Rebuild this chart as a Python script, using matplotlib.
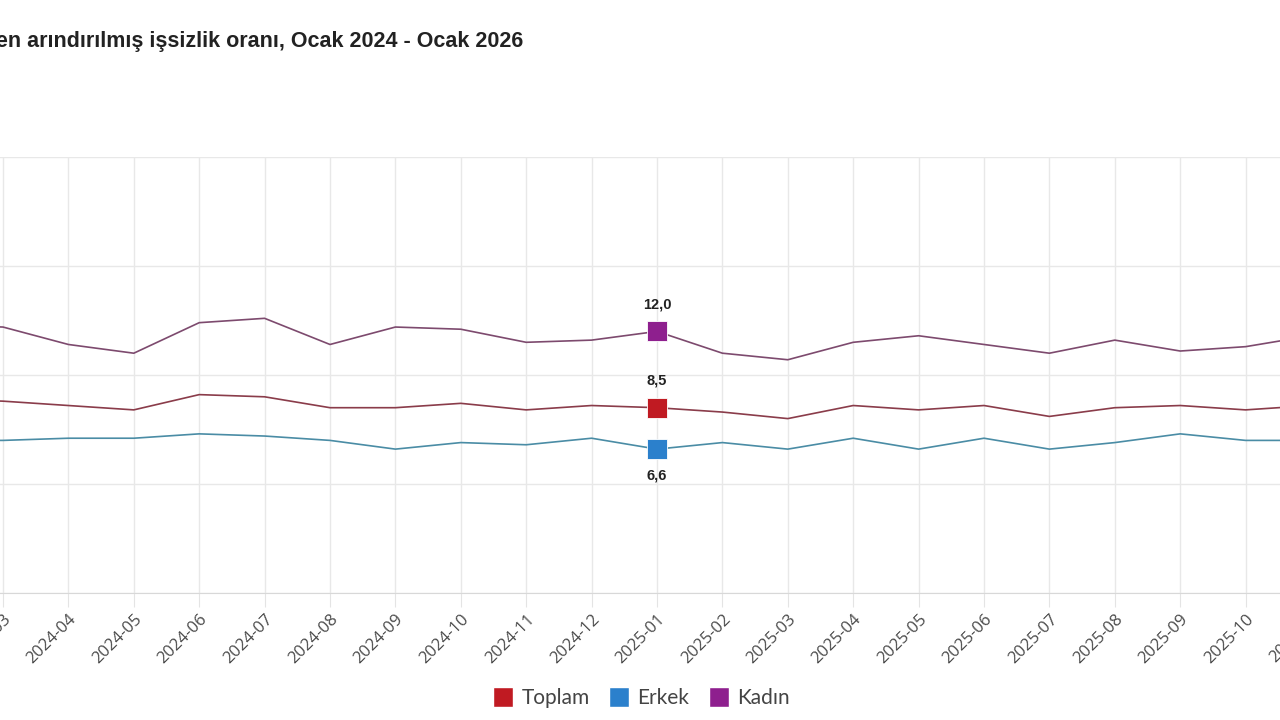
# mevsim etkilerinden arındırılmış işsizlik oranı - Toplam / Erkek / Kadın

import matplotlib
matplotlib.use('Agg')
import matplotlib.pyplot as plt
from matplotlib.lines import Line2D

# data (months Ocak 2024 - Ocak 2026, percent)
months = ['2024-01', '2024-02', '2024-03', '2024-04', '2024-05', '2024-06', '2024-07',
          '2024-08', '2024-09', '2024-10', '2024-11', '2024-12', '2025-01', '2025-02',
          '2025-03', '2025-04', '2025-05', '2025-06', '2025-07', '2025-08', '2025-09',
          '2025-10', '2025-11', '2025-12', '2026-01']
toplam = [9.1, 8.9, 8.8, 8.6, 8.4, 9.1, 9.0, 8.5, 8.5, 8.7, 8.4, 8.6, 8.5, 8.3,
          8.0, 8.6, 8.4, 8.6, 8.1, 8.5, 8.6, 8.4, 8.6, 8.6, 8.6]
erkek = [7.2, 7.0, 7.0, 7.1, 7.1, 7.3, 7.2, 7.0, 6.6, 6.9, 6.8, 7.1, 6.6, 6.9,
         6.6, 7.1, 6.6, 7.1, 6.6, 6.9, 7.3, 7.0, 7.0, 7.1, 7.0]
kadin = [12.4, 12.3, 12.2, 11.4, 11.0, 12.4, 12.6, 11.4, 12.2, 12.1, 11.5, 11.6, 12.0, 11.0,
         10.7, 11.5, 11.8, 11.4, 11.0, 11.6, 11.1, 11.3, 11.8, 11.7, 11.6]
highlight = '2025-01'

title = 'Mevsim etkilerinden arındırılmış işsizlik oranı, Ocak 2024 - Ocak 2026'

# colours: (line, marker)
series = [
    ('Toplam', toplam, '#8a3c4a', '#c01a22', 'above'),
    ('Erkek', erkek, '#4a8ca5', '#2b80cc', 'below'),
    ('Kadın', kadin, '#7d4a6e', '#8e1f8e', 'above'),
]

fig = plt.figure(figsize=(12.8, 7.2), dpi=100)
# the picture is a crop of a wider chart, so the axes run past the figure edges
ax = fig.add_axes([-127.8 / 1280, 127 / 720, 1569.6 / 1280, 436 / 720])

x = list(range(len(months)))
hi = months.index(highlight)

for name, vals, lc, mc, pos in series:
    ax.plot(x, vals, color=lc, lw=1.2, zorder=3)
    ax.plot([hi], [vals[hi]], marker='s', ms=14.5, color=mc,
            markeredgecolor='#ffffff', markeredgewidth=0.6, zorder=4)
    label = f'{vals[hi]:.1f}'.replace('.', ',')
    dy = 19.5 if pos == 'above' else -19
    ax.annotate(label, (hi, vals[hi]), xytext=(0, dy), textcoords='offset points',
                ha='center', va='center', fontsize=10.5, fontweight='bold',
                color='#222222', family='Liberation Sans', zorder=5)

ax.set_xlim(0, len(months) - 1)
ax.set_ylim(0, 20)
ax.set_yticks([0, 5, 10, 15, 20])
ax.set_yticklabels([])
ax.set_xticks(x)
ax.set_xticklabels(months, rotation=45, ha='right', rotation_mode='anchor',
                   fontsize=12, color='#4a4a4a', family='Open Sans')
ax.tick_params(axis='x', length=10, color='#e4e4e4', pad=3)
ax.tick_params(axis='y', length=0)
ax.grid(True, color='#e8e8e8', lw=1)
ax.set_axisbelow(True)
for s in ['top', 'right', 'left']:
    ax.spines[s].set_visible(False)
ax.spines['bottom'].set_color('#d8d8d8')

fig.text(523 / 1280, 1 - 41 / 720, title, ha='right', va='center', fontsize=15.5,
         fontweight='bold', color='#222222', family='Liberation Sans')

handles = [Line2D([], [], marker='s', ls='none', ms=14, color=mc,
                  markeredgecolor='#ffffff', label=name)
           for name, vals, lc, mc, pos in series]
fig.legend(handles=handles, loc='center', bbox_to_anchor=(0.5, 1 - 698 / 720), ncol=3,
           frameon=False, handletextpad=0.3, columnspacing=0.8, handlelength=1.2,
           prop={'family': 'Lato', 'size': 15}, labelcolor='#444444')

fig.savefig('out.png', dpi=100)
